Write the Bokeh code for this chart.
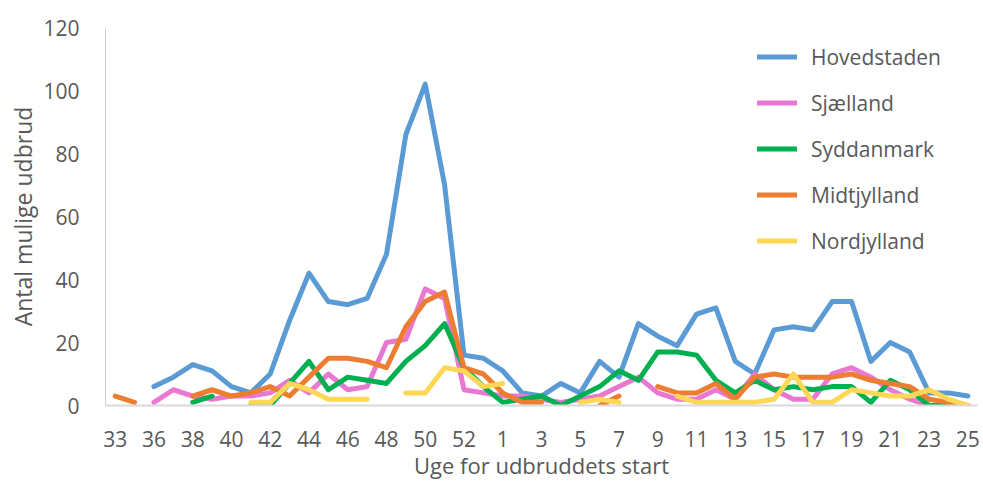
import math
from bokeh.plotting import figure
from bokeh.models import Range1d, FixedTicker, Legend, LegendItem, ColumnDataSource
from bokeh.embed import file_html
from bokeh.resources import INLINE

N = None

weeks = ["33", "34", "36", "37", "38", "39", "40", "41", "42", "43", "44", "45",
         "46", "47", "48", "49", "50", "51", "52", "53", "1", "2", "3", "4", "5",
         "6", "7", "8", "9", "10", "11", "12", "13", "14", "15", "16", "17", "18",
         "19", "20", "21", "22", "23", "24", "25"]

hovedstaden = [N, N, 6, 9, 13, 11, 6, 4, 10, 27, 42, 33, 32, 34, 48, 86, 102, 70, 16,
               15,
               11, 4, 3, 7, 4, 14, 9, 26, 22, 19, 29, 31, 14, 10, 24, 25, 24, 33, 33, 14, 20, 17, 4, 4, 3]
sjaelland = [N, N, 1, 5, 3, 2, 3, 3, 4, 8, 4, 10, 5, 6, 20, 21, 37, 34, 5,
             4,
             3, 3, 2, 1, 2, 3, 6, 9, 4, 2, 2, 5, 2, 10, 5, 2, 2, 10, 12, 9, 5, 2, 0, 0, 0]
syddanmark = [N, N, N, N, 1, 3, N, 0, 0, 7, 14, 5, 9, 8, 7, 14, 19, 26, 12,
              6,
              1, 2, 3, 0, 3, 6, 11, 8, 17, 17, 16, 8, 4, 8, 5, 6, 5, 6, 6, 1, 8, 5, 0, 0, 0]
midtjylland = [3, 1, N, N, 3, 5, 3, 4, 6, 3, 9, 15, 15, 14, 12, 25, 33, 36, 12,
               10,
               4, 1, 1, N, N, 0, 3, N, 6, 4, 4, 7, 2, 9, 10, 9, 9, 9, 10, 8, 7, 6, 2, 1, 0]
nordjylland = [N, N, N, N, N, N, N, 1, 1, 7, 5, 2, 2, 2, N, 4, 4, 12, 11,
               6,
               7, N, N, N, 1, 2, 1, N, N, 3, 1, 1, 1, 1, 2, 10, 1, 1, 5, 4, 3, 3, 5, 2, 0]

series_names = ["Hovedstaden", "Sjælland", "Syddanmark", "Midtjylland", "Nordjylland"]
series_values = [hovedstaden, sjaelland, syddanmark, midtjylland, nordjylland]
series_colors = ["#5B9BD5", "#E878D2", "#00B050", "#ED7D31", "#FFD757"]

y_ticks = [0, 20, 40, 60, 80, 100, 120]
x_title = "Uge for udbruddets start"
y_title = "Antal mulige udbrud"

FONT = "Open Sans"
TXT = "#595959"

p = figure(width=983, height=483, output_backend="svg", toolbar_location=None,
           x_range=Range1d(-0.5, len(weeks) - 0.5), y_range=Range1d(0, 120),
           min_border_left=105, min_border_right=6, min_border_top=27, min_border_bottom=78)
p.outline_line_color = None
p.xgrid.visible = False
p.ygrid.visible = False
p.background_fill_color = "white"

xs = list(range(len(weeks)))
renderers = []
for name, vals, col in zip(series_names, series_values, series_colors):
    ys = [float("nan") if v is None else v for v in vals]
    src = ColumnDataSource(dict(x=xs, y=ys))
    r = p.line("x", "y", source=src, line_width=5, line_color=col,
               line_join="round", line_cap="round")
    renderers.append((name, r))

xt = list(range(0, len(weeks), 2))
p.xaxis.ticker = FixedTicker(ticks=xt)
p.xaxis.major_label_overrides = {i: weeks[i] for i in xt}
p.yaxis.ticker = FixedTicker(ticks=y_ticks)

for ax in (p.xaxis[0], p.yaxis[0]):
    ax.major_tick_line_color = None
    ax.minor_tick_line_color = None
    ax.major_label_text_font = FONT
    ax.major_label_text_font_size = "21px"
    ax.major_label_text_color = TXT
    ax.axis_label_text_font = FONT
    ax.axis_label_text_color = TXT
    ax.axis_label_text_font_style = "normal"

p.xaxis.axis_label_text_font_size = "22px"
p.yaxis.axis_label_text_font_size = "23px"
p.xaxis.axis_line_color = "#D9D9D9"
p.xaxis.axis_line_width = 2
p.yaxis.axis_line_color = "#D0D0D0"
p.yaxis.axis_line_width = 1
p.xaxis.axis_label = x_title
p.yaxis.axis_label = y_title
p.xaxis.major_label_standoff = 19
p.xaxis.axis_label_standoff = 0
p.yaxis.major_label_standoff = 20
p.yaxis.axis_label_standoff = 1

legend = Legend(items=[LegendItem(label=n, renderers=[r]) for n, r in renderers],
                location=(652, 150), orientation="vertical",
                border_line_color=None, background_fill_alpha=0,
                padding=0, margin=0, spacing=17, label_height=29, glyph_height=29,
                glyph_width=40, label_standoff=14,
                label_text_font=FONT, label_text_font_size="21px", label_text_color=TXT)
p.add_layout(legend, "center")

open("out.html", "w").write(file_html(p, INLINE))
